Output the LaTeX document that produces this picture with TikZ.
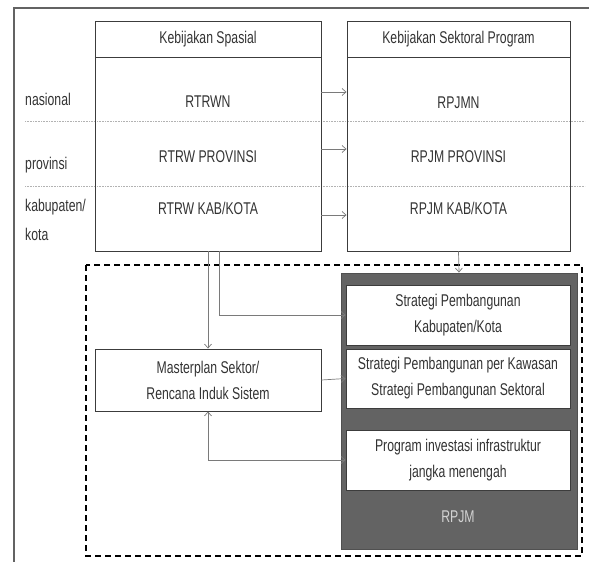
\documentclass[tikz,border=0pt]{standalone}
\usepackage{fontspec}
\setmainfont{Liberation Sans}[FakeStretch=0.72]
\usetikzlibrary{positioning,arrows.meta}

\definecolor{boxc}{HTML}{3C3C3C}
\definecolor{lnkc}{HTML}{7A7A7A}
\definecolor{txtc}{HTML}{333333}
\definecolor{rpjmc}{HTML}{636363}

\tikzset{
  box/.style={draw=boxc, line width=0.9pt, inner sep=0pt, text=txtc, align=center},
  inbox/.style={box, fill=white, minimum width=224pt, minimum height=60pt},
  lbl/.style={text=txtc, inner sep=0pt, align=center},
  lnk/.style={draw=lnkc, line width=0.7pt, -{Straight Barb[length=4pt,width=7pt]}},
  levline/.style={draw=gray!60, line width=0.6pt, densely dotted},
}

\begin{document}
\begin{tikzpicture}[x=1pt,y=-1pt,font=\fontsize{17}{26}\selectfont]
  \useasboundingbox (0,0) rectangle (589,562);

  % outer frame
  \draw[boxc!80, line width=1.1pt] (589,8) -- (14,8) -- (14,562);

  % level separators
  \draw[levline] (25,121) -- (585,121);
  \draw[levline] (25,186) -- (585,186);

  % level labels
  \node[lbl, anchor=west] (nas) at (25,99) {nasional};
  \node[lbl, anchor=west] (prov) at (25,165) {provinsi};
  \node[lbl, anchor=north west, align=left] (kab) at (25,199) {kabupaten/\\[3pt]kota};

  % upper columns
  \node[box, minimum width=226pt, minimum height=36pt] (hsp) at (208,39) {Kebijakan Spasial};
  \node[box, minimum width=226pt, minimum height=194pt] (bsp) at (208,154) {};
  \node[box, minimum width=223pt, minimum height=36pt] (hpj) at (458.5,39) {Kebijakan Sektoral Program};
  \node[box, minimum width=223pt, minimum height=194pt] (bpj) at (458.5,154) {};

  \node[lbl] (rtrwn) at (208,102) {RTRWN};
  \node[lbl] (rtrwp) at (208,157) {RTRW PROVINSI};
  \node[lbl] (rtrwk) at (208,208) {RTRW KAB/KOTA};
  \node[lbl] (rpjmn) at (458.5,103) {RPJMN};
  \node[lbl] (rpjmp) at (458.5,157) {RPJM PROVINSI};
  \node[lbl] (rpjmk) at (458.5,208) {RPJM KAB/KOTA};

  \draw[lnk] ([yshift=62pt]bsp.east) -- ([yshift=62pt]bpj.west);
  \draw[lnk] ([yshift=5pt]bsp.east) -- ([yshift=5pt]bpj.west);
  \draw[lnk] ([yshift=-61pt]bsp.east) -- ([yshift=-61pt]bpj.west);

  % lower part
  \draw[line width=1.1pt, dash pattern=on 6pt off 4pt] (86,265) rectangle (582,556);

  \node[box, fill=rpjmc, draw=boxc!90, minimum width=236pt, minimum height=276pt] (rpjm) at (459,411) {};
  \node[lbl, text=gray!35] (rpjml) at (458,517) {RPJM};

  \node[inbox] (s1) at (458,315) {Strategi Pembangunan\\Kabupaten/Kota};
  \node[inbox, minimum height=59pt] (s2) at (458,378.5) {Strategi Pembangunan per Kawasan\\Strategi Pembangunan Sektoral};
  \node[inbox] (s3) at (458,460) {Program investasi infrastruktur\\jangka menengah};

  \node[box, minimum width=226pt, minimum height=62pt] (mp) at (208,380) {Masterplan Sektor/\\Rencana Induk Sistem};

  \draw[lnk] (bpj.south) -- (rpjm.north);
  \draw[lnk] (bsp.south) -- (mp.north);
  \draw[lnk] ([xshift=11pt]bsp.south) |- (s1.west);
  \draw[lnk] (mp.east) -- (s2.west);
  \draw[lnk, {Straight Barb[length=4pt,width=7pt]}-{Straight Barb[length=4pt,width=7pt]}] (s3.west) -| (mp.south);
\end{tikzpicture}
\end{document}
